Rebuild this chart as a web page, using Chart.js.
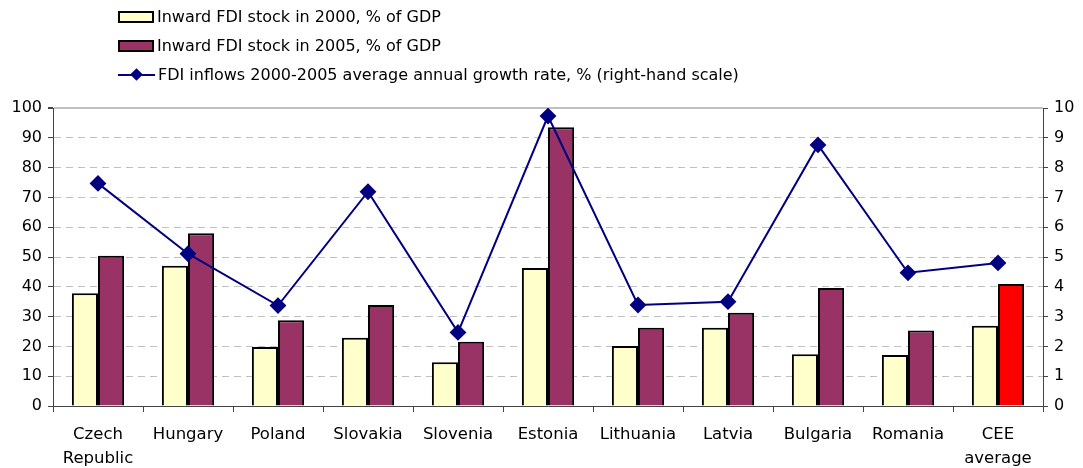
<!DOCTYPE html>
<html>
<head>
<meta charset="utf-8">
<script src="https://cdn.jsdelivr.net/npm/chart.js@4.4.0/dist/chart.umd.min.js"></script>
<style>
  body { margin: 0; background: #fff; }
  #wrap { position: relative; width: 1083px; height: 468px; }
  #legend { position: absolute; left: 118px; top: 2px; font-family: 'DejaVu Sans', sans-serif; font-size: 16px; color: #000; }
  .row { height: 29px; display: flex; align-items: center; }
  .box { width: 36px; height: 12px; border: 2px solid #000; box-sizing: border-box; margin-right: 3px; }
  .ln { width: 39px; height: 14px; position: relative; margin-right: 1px; }
  .ln:before { content: ''; position: absolute; left: 0; right: 2px; top: 6px; height: 2px; background: #000080; }
  .ln:after { content: ''; position: absolute; left: 14px; top: 2px; width: 9px; height: 9px; background: #000080; transform: rotate(45deg); }
</style>
</head>
<body>
<div id="wrap">
  <canvas id="c" width="1083" height="468"></canvas>
  <div id="legend">
    <div class="row"><span class="box" style="background:#ffffcc"></span>Inward FDI stock in 2000, % of GDP</div>
    <div class="row"><span class="box" style="background:#993366"></span>Inward FDI stock in 2005, % of GDP</div>
    <div class="row"><span class="ln"></span>FDI inflows 2000-2005 average annual growth rate, % (right-hand scale)</div>
  </div>
</div>
<script>
'use strict';

const countries = [['Czech', 'Republic'], 'Hungary', 'Poland', 'Slovakia', 'Slovenia', 'Estonia',
  'Lithuania', 'Latvia', 'Bulgaria', 'Romania', ['CEE', 'average']];
const stock2000 = [37.8, 47.1, 19.8, 22.9, 14.7, 46.3, 20.1, 26.3, 17.4, 17.1, 26.9];
const stock2005 = [50.4, 58.0, 28.8, 33.9, 21.6, 93.5, 26.3, 31.3, 39.6, 25.3, 40.9];
const growthRate = [7.47, 5.11, 3.37, 7.19, 2.47, 9.73, 3.39, 3.5, 8.76, 4.47, 4.8];

const font = { family: "'DejaVu Sans', sans-serif", size: 16 };

new Chart(document.getElementById('c'), {
  data: {
    labels: countries,
    datasets: [
      {
        type: 'line',
        label: 'FDI inflows 2000-2005 average annual growth rate, % (right-hand scale)',
        data: growthRate,
        yAxisID: 'y2',
        borderColor: '#000080',
        backgroundColor: '#000080',
        borderWidth: 2,
        pointStyle: 'rectRot',
        pointRadius: 7,
        tension: 0,
        order: 0,
      },
      {
        type: 'bar',
        label: 'Inward FDI stock in 2000, % of GDP',
        data: stock2000,
        backgroundColor: '#ffffcc',
        borderColor: '#000',
        borderWidth: 2,
        categoryPercentage: 0.58,
        barPercentage: 1.0,
        order: 1,
      },
      {
        type: 'bar',
        label: 'Inward FDI stock in 2005, % of GDP',
        data: stock2005,
        backgroundColor: stock2005.map((v, i) => i === stock2005.length - 1 ? '#ff0000' : '#993366'),
        borderColor: '#000',
        borderWidth: 2,
        categoryPercentage: 0.58,
        barPercentage: 1.0,
        order: 1,
      },
    ]
  },
  options: {
    responsive: false,
    animation: false,
    layout: { padding: { top: 108, left: 0, right: 0 } },
    plugins: {
      legend: { display: false },
      tooltip: { enabled: false },
    },
    scales: {
      x: {
        offset: true,
        grid: {
          offset: true,
          drawOnChartArea: false,
          drawTicks: true,
          tickLength: 6,
          color: '#444',
        },
        border: { color: '#444', width: 1 },
        ticks: { font: { ...font, size: 16.5, lineHeight: 1.5 }, color: '#000', maxRotation: 0, autoSkip: false, padding: 10 },
        afterFit: (s) => { s.height = 62; },
      },
      y: {
        position: 'left',
        min: 0,
        max: 100,
        ticks: { stepSize: 10, font: font, color: '#000', padding: 6 },
        grid: {
          color: (ctx) => ctx.tick && ctx.tick.value === 0 ? 'rgba(0,0,0,0)' : '#c0c0c0',
          lineWidth: (ctx) => ctx.tick && ctx.tick.value === 100 ? 2 : 1,
          tickColor: '#444',
          tickLength: 5,
        },
        border: {
          color: '#444',
          width: 1,
          dash: (ctx) => ctx.tick && ctx.tick.value === 100 ? [] : [7, 5],
        },
        afterFit: (s) => { s.width = 53; },
      },
      y2: {
        position: 'right',
        min: 0,
        max: 10,
        ticks: { stepSize: 1, font: font, color: '#000', padding: 6 },
        grid: { drawOnChartArea: false, tickColor: '#444', tickLength: 5 },
        border: { color: '#444', width: 1 },
        afterFit: (s) => { s.width = 40; },
      },
    }
  }
});
</script>
</body>
</html>
